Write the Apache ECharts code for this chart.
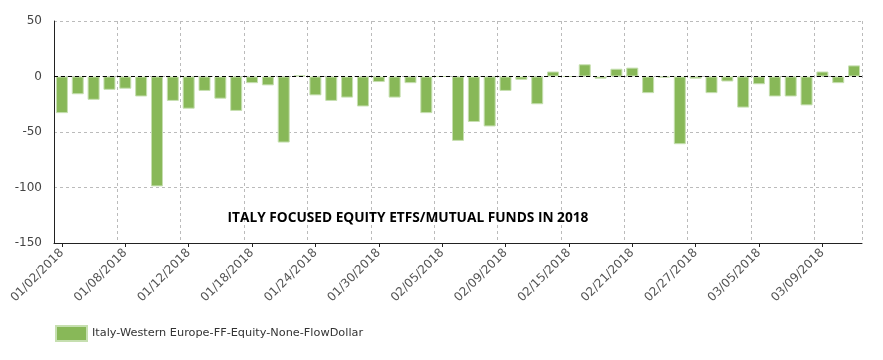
<!DOCTYPE html>
<html>
<head>
<meta charset="utf-8">
<script src="https://cdn.jsdelivr.net/npm/echarts@6/dist/echarts.min.js"></script>
<style>html,body{margin:0;padding:0;background:#fff;}#c{width:883px;height:360px;}</style>
</head>
<body>
<div id="c"></div>
<script>
var categories = ["01/02/2018","01/03/2018","01/04/2018","01/05/2018","01/08/2018","01/09/2018","01/10/2018","01/11/2018","01/12/2018","01/15/2018","01/16/2018","01/17/2018","01/18/2018","01/19/2018","01/22/2018","01/23/2018","01/24/2018","01/25/2018","01/26/2018","01/29/2018","01/30/2018","01/31/2018","02/01/2018","02/02/2018","02/05/2018","02/06/2018","02/07/2018","02/08/2018","02/09/2018","02/12/2018","02/13/2018","02/14/2018","02/15/2018","02/16/2018","02/19/2018","02/20/2018","02/21/2018","02/22/2018","02/23/2018","02/26/2018","02/27/2018","02/28/2018","03/01/2018","03/02/2018","03/05/2018","03/06/2018","03/07/2018","03/08/2018","03/09/2018","03/12/2018","03/13/2018"];
var flowValues = [-33,-16,-21,-12,-11,-18,-99,-22,-29,-13,-20,-31,-6,-8,-59.5,1,-17,-22,-19,-27,-5,-19,-6,-33,0,-58,-41,-45,-13,-3,-25,4.5,0,11,-2,7,8,-15,-1,-61,-2,-15,-4.5,-28,-7,-18,-18,-26,4.5,-6,10];
var seriesName = "Italy-Western Europe-FF-Equity-None-FlowDollar";
var chartTitle = "ITALY FOCUSED EQUITY ETFS/MUTUAL FUNDS IN 2018";
var yTicks = [-150,-100,-50,0,50];

var chart = echarts.init(document.getElementById('c'), null, {renderer:'canvas'});
chart.setOption({
  animation:false,
  backgroundColor:'#fff',
  title:{
    text: chartTitle,
    left: 403, top: 206, textAlign:'center',
    textStyle:{fontFamily:'Open Sans', fontWeight:'bold', fontSize:13.7, color:'#000'}
  },
  legend:{
    left:55, top:325, padding:0, itemWidth:31, itemHeight:15, itemGap:10,
    textStyle:{fontFamily:'DejaVu Sans', fontSize:11.3, color:'#333'},
    data:[{name:seriesName, icon:'rect'}]
  },
  grid:{left:54, right:21, top:21, bottom:117, containLabel:false},
  xAxis:{
    type:'category',
    data:categories,
    boundaryGap:true,
    axisLine:{onZero:false, lineStyle:{color:'#222', width:1}},
    axisTick:{show:true, alignWithLabel:true, interval:3, length:4, lineStyle:{color:'#222'}},
    axisLabel:{interval:3, rotate:45, fontFamily:'DejaVu Sans', fontSize:12, color:'#555', margin:8},
    splitLine:{show:true, interval:3, lineStyle:{color:'#bbb', type:[3,3], width:1}}
  },
  yAxis:{
    type:'value',
    min:yTicks[0], max:yTicks[yTicks.length-1], interval:50,
    axisLine:{show:true, lineStyle:{color:'#222', width:1}},
    axisTick:{show:false},
    axisLabel:{fontFamily:'DejaVu Sans', fontSize:12, color:'#444', margin:12},
    splitLine:{show:true, lineStyle:{color:'#bbb', type:[3,3], width:1}}
  },
  series:[{
    name:seriesName,
    type:'bar',
    data:flowValues,
    barWidth:12,
    itemStyle:{color:'#88b858', borderColor:'#c6dfb0', borderWidth:1},
    markLine:{
      silent:true, symbol:'none', label:{show:false},
      lineStyle:{color:'#000', type:[4,3], width:1},
      data:[{yAxis:0}]
    }
  }]
});
</script>
</body>
</html>
